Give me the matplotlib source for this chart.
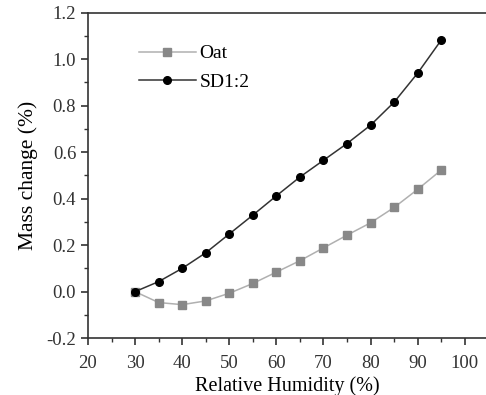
import numpy as np
import matplotlib
matplotlib.use("Agg")
import matplotlib.pyplot as plt
from matplotlib.ticker import MultipleLocator

rh = [30, 35, 40, 45, 50, 55, 60, 65, 70, 75, 80, 85, 90, 95]
oat = [0.0, -0.047, -0.056, -0.04, -0.007, 0.035, 0.084, 0.133, 0.188, 0.243, 0.296, 0.362, 0.44, 0.523]
sd12 = [0.0, 0.043, 0.10, 0.167, 0.248, 0.329, 0.412, 0.493, 0.565, 0.637, 0.716, 0.815, 0.94, 1.082]

plt.rcParams['font.family'] = ['Liberation Serif', 'DejaVu Serif']

fig = plt.figure(figsize=(4.86, 3.95), dpi=100)
ax = fig.add_axes([0.181, 0.144, 0.819, 0.824])

ax.plot(rh, oat, color='#b0b0b0', lw=1.1, marker='s', ms=5.5,
        mfc='#888888', mec='#888888', label='Oat')
ax.plot(rh, sd12, color='#333333', lw=1.1, marker='o', ms=5.5,
        mfc='black', mec='black', label='SD1:2')

ax.set_xlim(20, 104.5)
ax.set_ylim(-0.2, 1.2)
ax.xaxis.set_major_locator(MultipleLocator(10))
ax.xaxis.set_minor_locator(MultipleLocator(5))
ax.yaxis.set_major_locator(MultipleLocator(0.2))
ax.yaxis.set_minor_locator(MultipleLocator(0.1))
ax.yaxis.set_major_formatter(matplotlib.ticker.FormatStrFormatter('%.1f'))

ax.spines['right'].set_visible(False)
for s in ['left', 'bottom', 'top']:
    ax.spines[s].set_linewidth(1.2)
    ax.spines[s].set_color('#333333')
ax.tick_params(which='major', direction='out', length=5, width=1.2, labelsize=13.5, colors='#333333')
ax.tick_params(which='minor', direction='out', length=3, width=1.0, colors='#333333')
ax.tick_params(axis='x', pad=7)

ax.set_xlabel('Relative Humidity (%)', fontsize=14.5, labelpad=3)
ax.set_ylabel('Mass change (%)', fontsize=15.5, labelpad=6)

ax.legend(loc='upper left', bbox_to_anchor=(0.085, 0.955), frameon=False,
          fontsize=14, handlelength=2.9, handletextpad=0.2, labelspacing=0.55)

fig.savefig('out.png', dpi=100)
